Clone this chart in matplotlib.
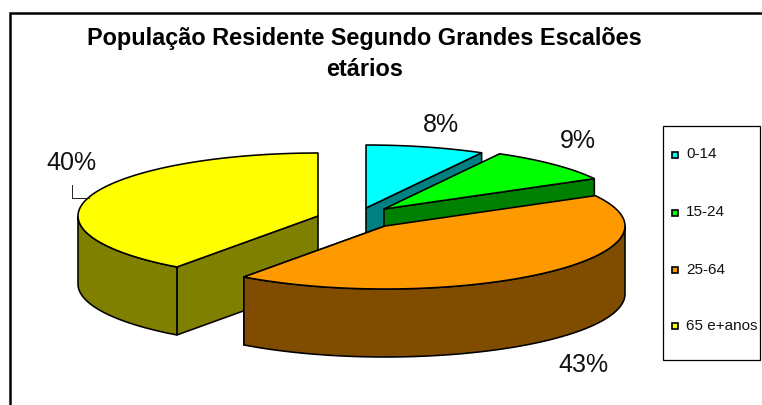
#------------------------------------------------------------------
# Exploded 3D style pie : populacao residente por escaloes etarios
#------------------------------------------------------------------
import numpy as np
import matplotlib
matplotlib.use("Agg")
import matplotlib.pyplot as plt

plt.rcParams['font.family'] = ['Liberation Sans', 'DejaVu Sans']

# Data
#----------------
categories = ["0-14", "15-24", "25-64", "65 e+anos"]
shares = [8, 9, 43, 40]
pct_labels = ["8%", "9%", "43%", "40%"]

# Colours : top face, side face
top_colors = ["#00FFFF", "#00FF00", "#FF9900", "#FFFF00"]
side_colors = ["#008080", "#008000", "#804C00", "#808000"]

# Layout, in pixels of the 762x405 picture
#----------------
apex = [(366, 208), (384, 209), (385, 226), (318, 216)]
rx = 240.
ry = 63.
depth = 68.
pct_pos = [(441, 124.5), (578, 140.5), (583, 364.5), (71, 163.5)]
lw = 1.15


def rimPoints(c, a0, a1):
    # angles in degrees, clockwise from 12 o'clock
    t = np.radians(np.linspace(a0, a1, 90))
    return c[0]+rx*np.sin(t), c[1]-ry*np.cos(t)


fig = plt.figure(figsize=(7.62, 4.05), dpi=100, facecolor="white")
ax = fig.add_axes([0, 0, 1, 1])
ax.set_xlim(0, 762)
ax.set_ylim(405, 0)
ax.axis("off")

# slice angles from the shares
edges = np.concatenate(([0.], np.cumsum(shares)))*360./np.sum(shares)

# back to front
for i in [0, 1, 3, 2]:
    a0, a1 = edges[i], edges[i+1]
    cx, cy = apex[i]
    x, y = rimPoints(apex[i], a0, a1)

    # radial faces turned to the viewer
    for xe, ye in [(x[0], y[0]), (x[-1], y[-1])]:
        if (a0 < 180 and xe == x[-1]) or (i == 3 and xe == x[0]):
            ax.fill([cx, xe, xe, cx], [cy, ye, ye+depth, cy+depth],
                    facecolor=side_colors[i], edgecolor="black", linewidth=lw, joinstyle="round")

    # curved wall, only the front half of the rim
    lo, hi = max(a0, 90.), min(a1, 270.)
    if hi > lo:
        xs, ys = rimPoints(apex[i], lo, hi)
        ax.fill(np.concatenate((xs, xs[::-1])), np.concatenate((ys, ys[::-1]+depth)),
                facecolor=side_colors[i], edgecolor="black", linewidth=lw, joinstyle="round")

    # top face
    ax.fill(np.concatenate(([cx], x)), np.concatenate(([cy], y)),
            facecolor=top_colors[i], edgecolor="black", linewidth=lw, joinstyle="round")

for lab, (px, py) in zip(pct_labels, pct_pos):
    ax.text(px, py, lab, fontsize=18, color="#111111", ha="center", va="center")

# Leader line of the 40% label
ax.plot([71.5, 71.5, 89], [185, 198, 198], color="#222222", linewidth=0.7)

# Title
ax.text(364.5, 38, "População Residente Segundo Grandes Escalões", fontsize=16.9, fontweight="bold",
        ha="center", va="center", color="black")
ax.text(364.5, 69, "etários", fontsize=16.9, fontweight="bold", ha="center", va="center", color="black")

# Chart frame
ax.plot([10, 10, 762], [405, 13, 13], color="black", linewidth=1.8, solid_joinstyle="miter")

# Legend box
ax.fill([663, 760, 760, 663], [126, 126, 360, 360], facecolor="white", edgecolor="black", linewidth=0.9)
for lab, col, ly in zip(categories, top_colors, [154.5, 212.5, 270, 326]):
    ax.fill([671.5, 677.5, 677.5, 671.5], [ly-3, ly-3, ly+3, ly+3], facecolor=col, edgecolor="black", linewidth=1.2)
    ax.text(686, ly-0.5, lab, fontsize=11, color="#111111", ha="left", va="center")

fig.savefig("out.png", dpi=100)
